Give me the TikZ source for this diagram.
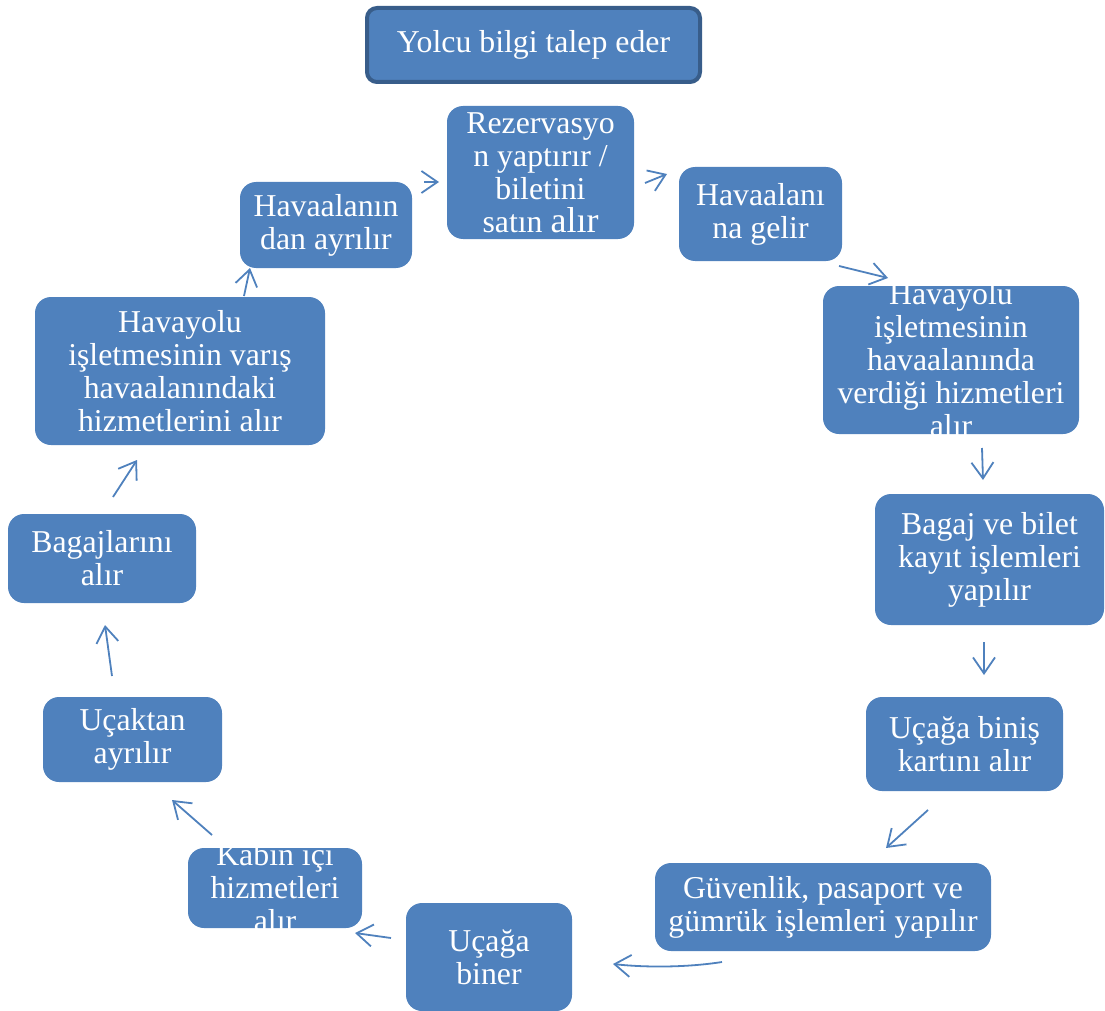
\documentclass[tikz,border=0pt]{standalone}
\usepackage{fontspec}
\setmainfont{Liberation Serif}
\usetikzlibrary{arrows.meta}
\definecolor{boxblue}{HTML}{4F81BD}
\definecolor{boxedge}{HTML}{385D8A}
\begin{document}
\begin{tikzpicture}[x=1pt,y=-1pt,
  stepbox/.style={fill=boxblue, rounded corners=16pt, text=white, align=center,
    inner xsep=0pt, inner ysep=-30pt, font=\fontsize{31.8}{33}\selectfont},
  flow/.style={draw=boxblue, line width=1.8pt,
    -{Straight Barb[length=16pt,width=22pt]}}]
\useasboundingbox (0,0) rectangle (1105,1011);

% nodes
\node[stepbox, draw=boxedge, line width=4pt, rounded corners=10pt,
  minimum width=333pt, minimum height=74pt] (top) at (533.5,45) {Yolcu bilgi talep eder};
\node[stepbox, minimum width=187pt, minimum height=133pt] (rez) at (540.5,172.5)
  {Rezervasyo\\n yaptırır /\\biletini\\satın {\fontsize{36}{33}\selectfont alır}};
\node[stepbox, minimum width=163pt, minimum height=94pt] (gel) at (760.5,214) {Havaalanı\\na gelir};
\node[stepbox, minimum width=256pt, minimum height=148pt] (hiz) at (951,360)
  {Havayolu\\işletmesinin\\havaalanında\\verdiği hizmetleri\\alır};
\node[stepbox, minimum width=229pt, minimum height=131pt] (bag) at (989.5,559.5)
  {Bagaj ve bilet\\kayıt işlemleri\\yapılır};
\node[stepbox, minimum width=197pt, minimum height=94pt] (kart) at (964.5,744)
  {Uçağa biniş\\kartını alır};
\node[stepbox, minimum width=336pt, minimum height=88pt] (guv) at (823,907)
  {Güvenlik, pasaport ve\\gümrük işlemleri yapılır};
\node[stepbox, minimum width=166pt, minimum height=108pt] (bin) at (489,957)
  {Uçağa\\biner};
\node[stepbox, minimum width=174pt, minimum height=80pt] (kab) at (275,888)
  {Kabin içi\\hizmetleri\\alır};
\node[stepbox, minimum width=179pt, minimum height=85pt] (ayr) at (132.5,739.5)
  {Uçaktan\\ayrılır};
\node[stepbox, minimum width=188pt, minimum height=89pt] (bgj) at (102,558.5)
  {Bagajlarını\\alır};
\node[stepbox, minimum width=290pt, minimum height=148pt] (var) at (180,371)
  {Havayolu\\işletmesinin varış\\havaalanındaki\\hizmetlerini alır};
\node[stepbox, minimum width=172pt, minimum height=86pt] (cik) at (326,225)
  {Havaalanın\\dan ayrılır};

% connector end points
\coordinate (a1s) at (424,182);  \coordinate (a1e) at (439,182);
\coordinate (a2s) at (645,183);  \coordinate (a2e) at (667,174);
\coordinate (a3s) at (839,266);  \coordinate (a3e) at (888,278);
\coordinate (a4s) at (982,448);  \coordinate (a4e) at (983,480);
\coordinate (a5s) at (984,642);  \coordinate (a5e) at (984,675);
\coordinate (a6s) at (928,810);  \coordinate (a6e) at (886,848);
\coordinate (a7s) at (722,962);  \coordinate (a7e) at (613,964);
\coordinate (a8s) at (391,938);  \coordinate (a8e) at (355,933);
\coordinate (a9s) at (212,835);  \coordinate (a9e) at (172,800);
\coordinate (a10s) at (112,676); \coordinate (a10e) at (105,625);
\coordinate (a11s) at (113,497); \coordinate (a11e) at (137,460);
\coordinate (a12s) at (244,296); \coordinate (a12e) at (250,268);

\draw[flow] (a1s) -- (a1e);
\draw[flow] (a2s) -- (a2e);
\draw[flow] (a3s) -- (a3e);
\draw[flow] (a4s) -- (a4e);
\draw[flow] (a5s) -- (a5e);
\draw[flow] (a6s) -- (a6e);
\draw[flow] (a7s) .. controls (690,967) and (650,968) .. (a7e);
\draw[flow] (a8s) -- (a8e);
\draw[flow] (a9s) -- (a9e);
\draw[flow] (a10s) -- (a10e);
\draw[flow] (a11s) -- (a11e);
\draw[flow] (a12s) -- (a12e);
\end{tikzpicture}
\end{document}
